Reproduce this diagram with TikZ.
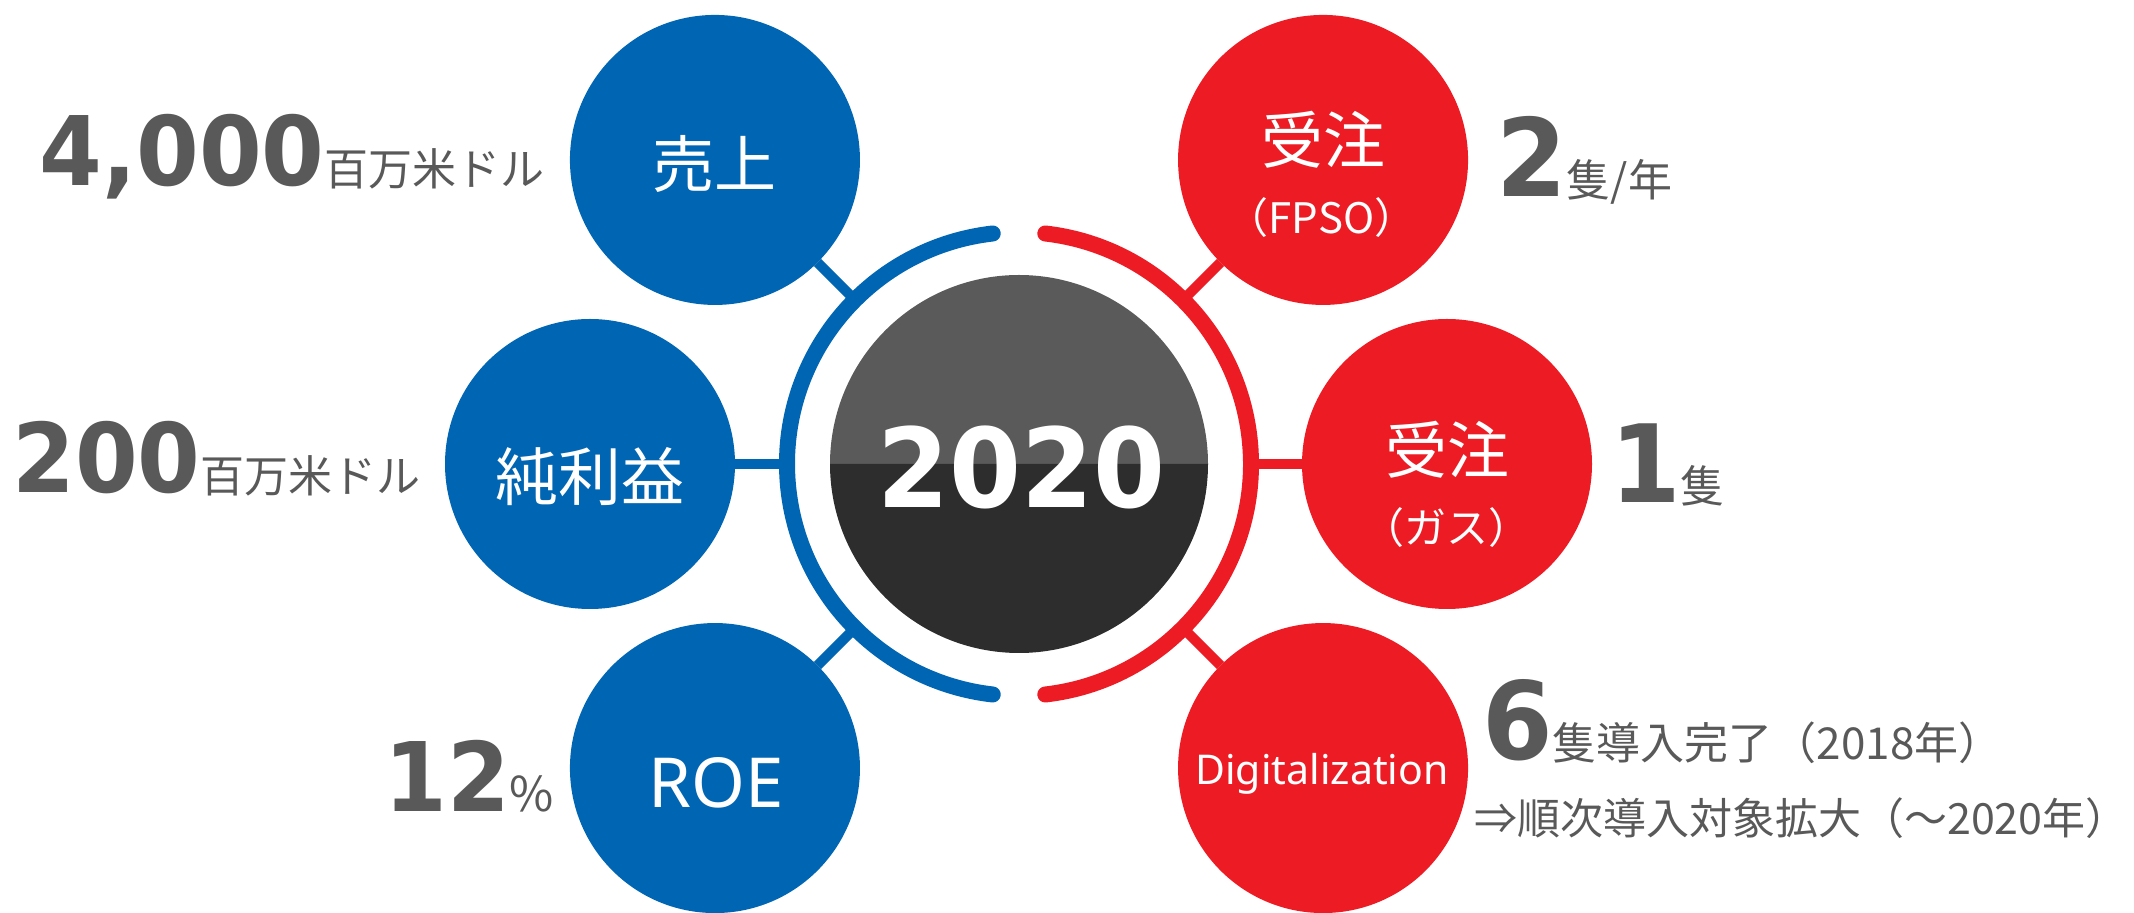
\documentclass[tikz,border=0pt]{standalone}
\usepackage{fontspec}
\usetikzlibrary{calc}
\newfontfamily\jpf{Noto Sans CJK JP}
\newfontfamily\latf{Noto Sans}
\newfontfamily\numf[FakeStretch=0.94]{DejaVu Sans Bold}
\newcommand\fsz[1]{\fontsize{#1pt}{#1pt}\selectfont}
\definecolor{cblue}{RGB}{0,102,179}
\definecolor{cred}{RGB}{237,28,36}
\definecolor{cgray}{RGB}{89,89,89}
\definecolor{ctop}{RGB}{90,90,90}
\definecolor{cbot}{RGB}{45,45,45}
\tikzset{
  sat/.style={circle, minimum size=290pt, inner sep=0pt, outer sep=0pt},
  bsat/.style={sat, fill=cblue},
  rsat/.style={sat, fill=cred},
  conn/.style={line width=10pt},
  ringarc/.style={line width=16pt, line cap=round},
  intext/.style={text=white, inner sep=0pt},
  valtext/.style={text=cgray, inner sep=0pt, anchor=base west},
}
\begin{document}
\begin{tikzpicture}[x=1pt,y=1pt]
\useasboundingbox (0,0) rectangle (2134,913);
\coordinate (c) at (1019,449);
% satellites
\node[bsat] (s1) at ($(c)+(135:430)$) {};
\node[bsat] (s2) at ($(c)+(180:429)$) {};
\node[bsat] (s3) at ($(c)+(225:430)$) {};
\node[rsat] (s4) at ($(c)+(45:430)$) {};
\node[rsat] (s5) at ($(c)+(0:428)$) {};
\node[rsat] (s6) at ($(c)+(-45:430)$) {};
% ring points
\coordinate (r1) at ($(c)+(135:232)$);
\coordinate (r2) at ($(c)+(180:232)$);
\coordinate (r3) at ($(c)+(225:232)$);
\coordinate (r4) at ($(c)+(45:232)$);
\coordinate (r5) at ($(c)+(0:232)$);
\coordinate (r6) at ($(c)+(-45:232)$);
\draw[conn,cblue] (s1) -- (r1);
\draw[conn,cblue] (s2) -- (r2);
\draw[conn,cblue] (s3) -- (r3);
\draw[conn,cred] (s4) -- (r4);
\draw[conn,cred] (s5) -- (r5);
\draw[conn,cred] (s6) -- (r6);
% ring
\draw[ringarc,cblue] ($(c)+(96.5:232)$) arc[start angle=96.5, end angle=263.5, radius=232pt];
\draw[ringarc,cred] ($(c)+(-83.5:232)$) arc[start angle=-83.5, end angle=83.5, radius=232pt];
% central disc
\fill[ctop] ($(c)+(189,0)$) arc[start angle=0, end angle=180, radius=189pt] -- cycle;
\fill[cbot] ($(c)+(-189,0)$) arc[start angle=180, end angle=360, radius=189pt] -- cycle;
\node[intext] (yr) at (1021,446) {\numf\fsz{110}2020};
% labels in circles
\node[intext] (l1) at (714,749.5) {\jpf\fsz{62}売上};
\node[intext] (l2) at (590,436.5) {\jpf\fsz{63}純利益};
\node[intext, anchor=base] (l3) at (716,105) {\latf\fsz{69}ROE};
\node[intext] (l4a) at (1323,773) {\jpf\fsz{62}受注};
\node[intext] (l4b) at (1321.5,695) {\jpf\fsz{42}（FPSO）};
\node[intext] (l5a) at (1447.5,463) {\jpf\fsz{62}受注};
\node[intext] (l5b) at (1446,385) {\jpf\fsz{42}（ガス）};
\node[intext, anchor=base] (l6) at (1322,128) {\latf\fsz{41}Digitalization};
% values
\node[valtext] (v1) at (39,727) {\numf\fsz{96}4,000\jpf\fsz{44}百万米ドル};
\node[valtext] (v2) at (12,420) {\numf\fsz{96}200\jpf\fsz{44}百万米ドル};
\node[valtext] (v3) at (384,101) {\numf\fsz{96}12\jpf\fsz{48}\%};
\node[valtext] (v4) at (1496,716) {\numf\fsz{108}2\jpf\fsz{44}隻/年};
\node[valtext] (v5) at (1610,410) {\numf\fsz{108}1\jpf\fsz{44}隻};
\node[valtext] (v6) at (1482,153) {\numf\fsz{108}6\jpf\fsz{44}隻導入完了（2018年）};
\node[valtext] (v7) at (1474,78) {\jpf\fsz{43}⇒順次導入対象拡大（～2020年）};
\end{tikzpicture}
\end{document}
